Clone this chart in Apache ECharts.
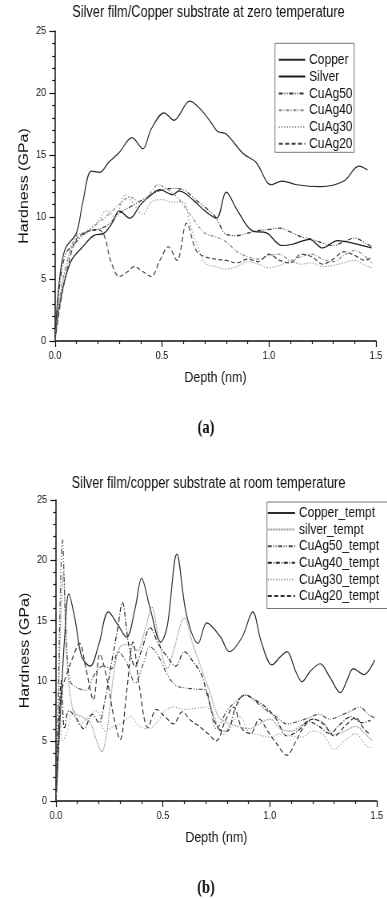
<!DOCTYPE html>
<html><head><meta charset="utf-8">
<script src="https://cdn.jsdelivr.net/npm/echarts/dist/echarts.min.js"></script>
<style>
html,body{margin:0;padding:0;overflow:hidden;background:#fff;width:387px;height:899px}
#wrap{width:484px;height:899px;transform:scaleX(0.8);transform-origin:0 0}
</style></head><body><div id="wrap"></div>
<script>
// ---------- Chart (a): zero temperature ----------
const titleA = 'Silver film/Copper substrate at zero temperature';
const namesA = ['Copper','Silver','CuAg50','CuAg40','CuAg30','CuAg20'];
const copperA_x = [0,0.02,0.047,0.1,0.13,0.17,0.21,0.25,0.3,0.36,0.41,0.45,0.51,0.556,0.63,0.69,0.73,0.76,0.8,0.88,0.94,1.01,1.06,1.13,1.24,1.35,1.42,1.46];
const copperA_y = [0,4.8,7.4,8.7,11.2,13.7,13.6,14.4,15.2,16.4,15.5,17.1,18.4,17.8,19.35,18.5,17.6,16.9,16.7,15.1,14.4,12.6,12.9,12.6,12.45,12.9,14.1,13.8];
const silverA_x = [0,0.02,0.05,0.08,0.13,0.18,0.23,0.27,0.3,0.35,0.4,0.45,0.49,0.55,0.58,0.65,0.7,0.755,0.8,0.85,0.92,0.99,1.06,1.11,1.19,1.25,1.32,1.39,1.48];
const silverA_y = [0,2.8,5.2,6.6,7.6,8.5,8.7,9.6,10.5,9.9,11.0,11.8,12.2,11.8,12.1,11.3,10.5,9.9,12.0,10.6,8.9,8.7,7.7,7.8,8.2,7.5,8.1,7.9,7.5];
const cuag50A_x = [0,0.02,0.05,0.1,0.15,0.2,0.25,0.3,0.35,0.4,0.45,0.5,0.55,0.6,0.65,0.7,0.75,0.8,0.85,0.9,0.95,1.0,1.05,1.1,1.15,1.2,1.25,1.3,1.35,1.4,1.45,1.48];
const cuag50A_y = [0,4.2,7.0,8.0,8.8,9.0,9.4,10.3,10.8,11.3,11.8,12.2,12.3,12.2,11.5,10.8,10.0,8.6,8.5,8.7,8.9,9.0,9.1,8.8,8.4,8.2,7.9,7.7,8.0,8.3,7.9,7.6];
const cuag40A_x = [0,0.02,0.05,0.1,0.15,0.2,0.25,0.3,0.35,0.4,0.45,0.48,0.52,0.57,0.62,0.66,0.7,0.75,0.8,0.85,0.9,0.95,1.0,1.05,1.1,1.15,1.2,1.25,1.3,1.35,1.4,1.45,1.48];
const cuag40A_y = [0,3.2,6.0,8.5,8.8,9.5,10.2,11.0,11.6,11.2,12.0,12.6,12.3,11.6,10.5,9.5,8.7,8.4,8.0,7.2,6.8,6.6,6.9,7.0,6.5,6.8,7.0,6.6,6.4,6.9,7.3,6.8,6.3];
const cuag30A_x = [0,0.03,0.06,0.1,0.15,0.2,0.24,0.28,0.33,0.37,0.41,0.45,0.5,0.55,0.6,0.63,0.67,0.7,0.75,0.8,0.85,0.9,0.95,1.0,1.05,1.1,1.15,1.2,1.25,1.3,1.35,1.4,1.45,1.48];
const cuag30A_y = [0,4.0,6.5,8.2,8.9,9.6,10.5,10.0,11.8,11.0,10.2,11.2,11.4,11.2,11.2,9.5,7.5,6.3,6.0,5.8,6.0,6.4,6.2,5.9,6.1,6.4,6.2,6.3,6.0,6.1,6.3,6.5,6.1,5.9];
const cuag20A_x = [0,0.03,0.06,0.1,0.15,0.2,0.23,0.26,0.3,0.34,0.37,0.41,0.45,0.49,0.53,0.57,0.615,0.66,0.7,0.75,0.8,0.85,0.9,0.95,1.0,1.05,1.1,1.15,1.2,1.25,1.3,1.35,1.4,1.45,1.48];
const cuag20A_y = [0,3.5,6.0,8.2,8.8,9.0,8.5,6.5,5.2,5.6,6.0,5.6,5.2,6.5,7.6,6.5,9.5,7.3,6.8,6.6,6.5,6.3,6.6,6.4,7.0,6.5,6.3,7.0,6.8,6.2,6.6,7.2,6.9,6.5,6.8];

// ---------- Chart (b): room temperature ----------
const titleB = 'Silver film/copper substrate at room temperature';
const namesB = ['Copper_tempt','silver_tempt','CuAg50_tempt','CuAg40_tempt','CuAg30_tempt','CuAg20_tempt'];
const copperB_x = [0,0.02,0.04,0.06,0.09,0.12,0.16,0.2,0.245,0.29,0.33,0.37,0.4,0.44,0.49,0.52,0.565,0.61,0.665,0.705,0.77,0.81,0.87,0.92,0.96,1.01,1.05,1.08,1.12,1.15,1.19,1.235,1.28,1.33,1.36,1.39,1.44,1.49];
const copperB_y = [0,7,13.5,17.2,15.0,12.0,11.2,13.0,15.7,14.6,13.6,16.0,18.5,16.0,13.2,14.5,20.5,15.5,13.1,14.8,13.6,12.4,13.6,15.7,13.2,11.3,12.0,12.4,10.8,9.9,10.8,11.4,10.3,9.0,10.0,11.0,10.5,11.7];
const silverB_x = [0,0.01,0.02,0.035,0.05,0.08,0.12,0.16,0.19,0.214,0.24,0.27,0.3,0.34,0.38,0.42,0.448,0.48,0.52,0.55,0.6,0.64,0.68,0.72,0.76,0.8,0.85,0.9,0.95,1.0,1.05,1.1,1.15,1.2,1.25,1.3,1.35,1.4,1.45,1.48];
const silverB_y = [0,6,14,19,12,7.5,7.0,6.5,5.0,4.1,6.0,10.5,12.8,13.0,12.5,14.5,16.1,13.5,11.0,12.5,15.2,13.0,11.0,9.0,7.0,6.5,6.2,6.0,6.4,6.8,6.0,5.8,6.3,6.8,6.5,5.5,5.8,6.2,5.5,5.0];
const cuag50B_x = [0,0.01,0.02,0.03,0.045,0.065,0.1,0.14,0.18,0.22,0.26,0.29,0.33,0.37,0.41,0.44,0.48,0.52,0.56,0.6,0.65,0.7,0.72,0.75,0.8,0.85,0.89,0.93,0.98,1.03,1.08,1.13,1.18,1.23,1.28,1.33,1.38,1.42,1.46,1.49];
const cuag50B_y = [0,8,17,21.7,15,10,9.4,9.2,10.5,11.2,11.0,12.4,11.5,9.8,11.5,12.8,12.0,10.5,9.6,9.4,9.3,9.2,8.0,6.0,7.5,8.4,8.8,8.3,7.6,7.0,6.4,6.6,6.9,7.2,6.8,7.1,7.5,7.8,7.2,6.9];
const cuag40B_x = [0,0.01,0.025,0.04,0.06,0.09,0.13,0.17,0.2,0.23,0.26,0.29,0.31,0.34,0.37,0.4,0.44,0.48,0.52,0.56,0.6,0.64,0.68,0.72,0.76,0.8,0.84,0.88,0.93,0.98,1.03,1.08,1.13,1.18,1.23,1.28,1.33,1.38,1.43,1.47];
const cuag40B_y = [0,4,10,6,7.5,7.0,6.0,7.2,6.5,8.5,11.5,14.5,16.5,13.0,11.2,12.5,14.4,13.0,12.0,11.2,12.4,11.6,10.5,8.0,6.0,5.8,7.8,8.8,8.4,7.8,6.8,5.4,5.8,6.6,6.2,5.6,6.4,7.0,6.5,6.7];
const cuag30B_x = [0,0.01,0.02,0.03,0.05,0.08,0.11,0.15,0.19,0.23,0.27,0.31,0.35,0.39,0.43,0.47,0.51,0.55,0.6,0.65,0.7,0.74,0.78,0.82,0.86,0.9,0.95,1.0,1.05,1.1,1.15,1.2,1.25,1.3,1.35,1.4,1.45,1.48];
const cuag30B_y = [0,3,8,5,5.6,7.6,6.3,7.0,7.5,5.8,6.2,6.5,7.0,6.2,6.0,6.5,7.5,7.8,7.6,7.7,7.8,7.0,5.5,6.5,7.0,5.8,5.5,5.3,5.6,5.4,5.3,5.8,5.5,4.3,5.0,5.6,4.6,4.4];
const cuag20B_x = [0,0.01,0.025,0.05,0.08,0.11,0.14,0.175,0.205,0.24,0.27,0.3,0.33,0.36,0.39,0.43,0.47,0.51,0.55,0.59,0.63,0.67,0.71,0.75,0.79,0.83,0.87,0.91,0.95,0.99,1.03,1.08,1.12,1.16,1.2,1.25,1.3,1.35,1.4,1.44,1.47];
const cuag20B_y = [0,5,9,10.5,12.0,13.1,11.0,8.4,12.2,10.0,7.0,5.1,9.0,13.2,9.5,6.1,7.6,7.0,6.4,7.4,6.7,6.2,5.6,5.0,6.6,7.8,6.0,5.6,6.8,5.8,4.8,3.8,4.9,6.2,6.8,6.4,5.4,6.2,6.9,6.0,5.5];

// ---------- shared axis text ----------
const xName = 'Depth (nm)';
const yName = 'Hardness (GPa)';
const xTicks = {min:0, max:1.5, interval:0.5};
const yTicks = {min:0, max:25, interval:5};

const FONT = '"Liberation Sans", Arial, sans-serif';
const INK = '#111';

function mk(name, xs, ys, g, color, type, width) {
  return {
    type:'line', name, xAxisIndex:g, yAxisIndex:g,
    data: xs.map((x,i)=>[x, ys[i]]),
    symbol:'none', showSymbol:false, smooth:0.35,
    lineStyle:{color, width: width||1.2, type},
    itemStyle:{color},
    emphasis:{disabled:true}
  };
}

function xAxis(g) {
  return {
    gridIndex:g, type:'value', min:xTicks.min, max:xTicks.max, interval:xTicks.interval,
    axisLine:{onZero:false, lineStyle:{color:INK, width:1.5}},
    axisTick:{length:6, lineStyle:{color:INK, width:1.2}},
    minorTick:{show:true, splitNumber:5, length:3, lineStyle:{color:INK, width:1.2}},
    splitLine:{show:false},
    axisLabel:{formatter:v=>v.toFixed(1), fontSize:11.5, color:INK, margin:9, fontFamily:FONT},
    name:xName, nameLocation:'middle', nameGap:29, nameMoveOverlap:false,
    nameTextStyle:{fontSize:15.5, color:INK, fontFamily:FONT}
  };
}
function yAxis(g) {
  return {
    gridIndex:g, type:'value', min:yTicks.min, max:yTicks.max, interval:yTicks.interval,
    axisLine:{show:true, onZero:false, lineStyle:{color:INK, width:1.5}},
    axisTick:{show:true, length:7, lineStyle:{color:INK, width:1.2}},
    minorTick:{show:true, splitNumber:5, length:3.5, lineStyle:{color:INK, width:1.2}},
    splitLine:{show:false},
    axisLabel:{fontSize:11.5, color:INK, margin:11, fontFamily:FONT},
    name:yName, nameLocation:'middle', nameGap:30, nameMoveOverlap:false,
    nameTextStyle:{fontSize:16, color:INK, fontFamily:FONT}
  };
}

const legendItemStyle = {color:'rgba(0,0,0,0)', borderColor:'rgba(0,0,0,0)', borderWidth:0, opacity:0};

const chart = echarts.init(document.getElementById('wrap'), null, {width:484, height:899, renderer:'canvas'});
chart.setOption({
  animation:false,
  backgroundColor:'#fff',
  textStyle:{fontFamily:FONT},
  grid:[
    {left:68.75, top:31, width:401.25, height:310},
    {left:70, top:500, width:401, height:301}
  ],
  xAxis:[xAxis(0), xAxis(1)],
  yAxis:[yAxis(0), yAxis(1)],
  legend:[
    {data:namesA, orient:'vertical', left:343.75, top:43.3, padding:[9,2,1,3.75],
     itemWidth:33, itemHeight:14, itemGap:1.8, borderColor:'#777', borderWidth:1,
     itemStyle:legendItemStyle,
     selectedMode:false, textStyle:{fontFamily:FONT, fontSize:15, color:INK, lineHeight:15}},
    {data:namesB, orient:'vertical', left:333.75, top:502, padding:[3.5,12,5,0],
     itemWidth:34, itemHeight:14, itemGap:1.6, borderColor:'#777', borderWidth:1,
     itemStyle:legendItemStyle,
     selectedMode:false, textStyle:{fontFamily:FONT, fontSize:15, color:INK, lineHeight:15}}
  ],
  graphic:[
    {type:'text', position:[260.6,13], style:{text:titleA, textAlign:'center', textVerticalAlign:'middle', font:'16px "Liberation Sans", Arial, sans-serif', fill:INK}},
    {type:'text', position:[260.6,484], style:{text:titleB, textAlign:'center', textVerticalAlign:'middle', font:'16px "Liberation Sans", Arial, sans-serif', fill:INK}},
    {type:'text', position:[257.5,428], style:{text:'(a)', textAlign:'center', textVerticalAlign:'middle', font:'bold 18px "Liberation Serif", "Times New Roman", serif', fill:INK}},
    {type:'text', position:[257.5,888], style:{text:'(b)', textAlign:'center', textVerticalAlign:'middle', font:'bold 18px "Liberation Serif", "Times New Roman", serif', fill:INK}}
  ],
  series:[
    mk('Copper', copperA_x, copperA_y, 0, '#2a2a2a', 'solid'),
    mk('Silver', silverA_x, silverA_y, 0, '#1a1a1a', 'solid'),
    mk('CuAg50', cuag50A_x, cuag50A_y, 0, '#333', [5,2,1,2,1,2]),
    mk('CuAg40', cuag40A_x, cuag40A_y, 0, '#8a8a8a', [4,2,1,2]),
    mk('CuAg30', cuag30A_x, cuag30A_y, 0, '#8a8a8a', [1.2,2.2]),
    mk('CuAg20', cuag20A_x, cuag20A_y, 0, '#444', [5,3]),
    mk('Copper_tempt', copperB_x, copperB_y, 1, '#2a2a2a', 'solid'),
    mk('silver_tempt', silverB_x, silverB_y, 1, '#808080', [1,1]),
    mk('CuAg50_tempt', cuag50B_x, cuag50B_y, 1, '#4a4a4a', [5,2,1,2,1,2]),
    mk('CuAg40_tempt', cuag40B_x, cuag40B_y, 1, '#222', [5,2,1,2]),
    mk('CuAg30_tempt', cuag30B_x, cuag30B_y, 1, '#999', [1.2,2.2]),
    mk('CuAg20_tempt', cuag20B_x, cuag20B_y, 1, '#333', [5,3])
  ]
});
</script></body></html>
